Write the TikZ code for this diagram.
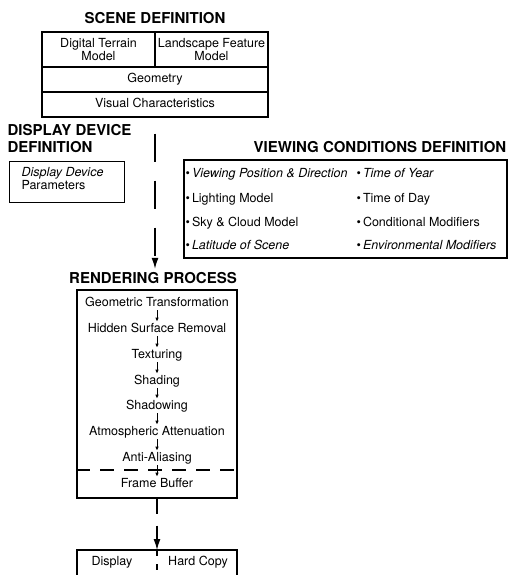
\documentclass[tikz,border=0pt]{standalone}
\usepackage{fontspec}
\setmainfont{TeX Gyre Heros}
\usetikzlibrary{arrows.meta}

\begin{document}
\begin{tikzpicture}[x=1pt, y=-1pt, line width=1.1pt,
  heading/.style={font=\fontsize{15}{17}\selectfont\bfseries, inner sep=0pt},
  body/.style={font=\fontsize{12.5}{13}\selectfont, inner sep=0pt},
  txt/.style={body, text height=9pt, text depth=2.5pt},
  cell/.style={draw, txt, minimum width=226pt, minimum height=25pt},
  twoline/.style={draw, body, align=center, minimum width=113pt, minimum height=35pt},
  item/.style={txt, anchor=west},
  steparrow/.style={-{Latex[length=4pt,width=3.5pt]}, line width=0.8pt, shorten <=1pt, shorten >=1pt},
  flow/.style={-{Latex[length=11pt,width=7pt]}, line width=1.3pt}]
\useasboundingbox (0,0) rectangle (509,575);

% scene definition
\node[heading] (stitle) at (155,18) {SCENE DEFINITION};
\node[twoline] (dtm) at (98.5,49.5) {Digital Terrain\\Model};
\node[twoline] (lfm) at (211.5,49.5) {Landscape Feature\\Model};
\node[cell] (geom) at (155,79.5) {Geometry};
\node[cell] (vis) at (155,104.5) {Visual Characteristics};

% display device definition
\node[heading, anchor=north west, align=left] (dtitle) at (7,123.5) {DISPLAY DEVICE\\DEFINITION};
\node[draw, minimum width=115pt, minimum height=41pt, anchor=north west] (ddbox) at (9,161) {};
\node[body, anchor=north west, align=left] (ddp) at (21,166.5) {\textit{Display Device}\\Parameters};

% viewing conditions definition
\node[heading] (vtitle) at (380,147) {VIEWING CONDITIONS DEFINITION};
\node[draw, minimum width=323pt, minimum height=98pt] (vbox) at (345.5,209) {};
\node[item] (vp) at (185,174) {\textbullet\,\textit{Viewing Position \& Direction}};
\node[item] (lm) at (185,199) {\textbullet\,Lighting Model};
\node[item] (sky) at (185,223) {\textbullet\,Sky \& Cloud Model};
\node[item] (lat) at (185,246) {\textbullet\,\textit{Latitude of Scene}};
\node[item] (toy) at (356,174) {\textbullet\,\textit{Time of Year}};
\node[item] (tod) at (356,199) {\textbullet\,Time of Day};
\node[item] (cm) at (356,223) {\textbullet\,Conditional Modifiers};
\node[item] (em) at (356,246) {\textbullet\,\textit{Environmental Modifiers}};

% rendering process
\node[heading] (rtitle) at (153,278) {RENDERING PROCESS};
\node[draw, minimum width=160pt, minimum height=208pt] (rbox) at (157,394) {};
\node[txt] (gt) at (157,303) {Geometric Transformation};
\node[txt] (hsr) at (157,329) {Hidden Surface Removal};
\node[txt] (tex) at (157,355) {Texturing};
\node[txt] (shd) at (157,381) {Shading};
\node[txt] (shw) at (157,406) {Shadowing};
\node[txt] (atm) at (157,432) {Atmospheric Attenuation};
\node[txt] (aa) at (157,458) {Anti-Aliasing};
\node[txt] (fb) at (157,484) {Frame Buffer};
\foreach \a/\b in {gt/hsr, hsr/tex, tex/shd, shd/shw, shw/atm, atm/aa, aa/fb}
    \draw[steparrow] (\a) -- (\b);
\draw[dash pattern=on 14pt off 10pt] (rbox.west |- 0,470) -- (rbox.east |- 0,470);

% scene to rendering
\draw[flow, dash pattern=on 28pt off 19pt, dash phase=31pt] (vis.south) -- ([yshift=3pt]vis.south |- rtitle.north);

% output devices
\coordinate (out) at (157,550);
\draw (77,576) |- (237,550) -- (237,576);
\draw[dash pattern=on 6pt off 8pt] (out) -- (157,576);
\node[txt] (disp) at (112,562) {Display};
\node[txt] (hc) at (198,562) {Hard Copy};
\draw[flow, dash pattern=on 15pt off 12pt] (rbox.south) -- (out);

\end{tikzpicture}
\end{document}
